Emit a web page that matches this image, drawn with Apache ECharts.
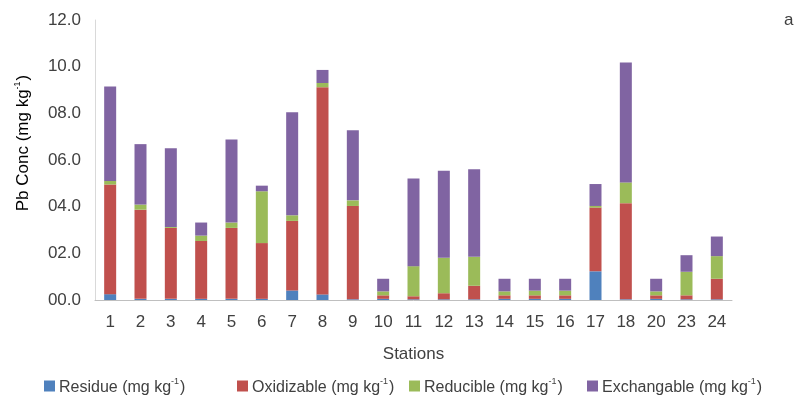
<!DOCTYPE html>
<html><head><meta charset="utf-8">
<script src="https://cdn.jsdelivr.net/npm/echarts@6/dist/echarts.min.js"></script>
<style>html,body{margin:0;padding:0;background:#fff}#c{width:798px;height:401px}</style>
</head><body><div id="c"></div>
<script>
const stations = ['1','2','3','4','5','6','7','8','9','10','11','12','13','14','15','16','17','18','20','23','24'];
const residue    = [0.25,0.05,0.05,0.05,0.05,0.05,0.41,0.24,0.03,0.05,0.03,0.03,0.03,0.05,0.05,0.05,1.23,0.03,0.05,0.03,0.03];
const oxidizable = [4.70,3.82,3.04,2.48,3.04,2.39,2.98,8.88,4.00,0.15,0.13,0.26,0.58,0.15,0.15,0.15,2.73,4.12,0.15,0.17,0.88];
const reducible  = [0.15,0.22,0.04,0.23,0.23,2.22,0.24,0.18,0.24,0.17,1.29,1.52,1.24,0.17,0.20,0.20,0.07,0.89,0.17,1.01,0.97];
const exchangable= [4.05,2.59,3.37,0.56,3.56,0.24,4.42,0.56,3.01,0.54,3.76,3.73,3.75,0.54,0.51,0.51,0.94,5.14,0.54,0.71,0.84];
const seriesNames = ['Residue','Oxidizable','Reducible','Exchangable'];
const yTitle = 'Pb Conc (mg kg';
const colors = ['#4F81BD','#C0504D','#9BBB59','#8064A2'];
const FONT = '"Liberation Sans", Arial, sans-serif';
const TXT = '#404040';
const rich = {
  a:{fontFamily:FONT,fontSize:16,color:TXT,lineHeight:20,verticalAlign:'bottom'},
  s:{fontFamily:FONT,fontSize:9,color:TXT,lineHeight:20,verticalAlign:'top',padding:[1,1,0,0]}
};
const richY = {
  a:{fontFamily:FONT,fontSize:17,color:TXT,lineHeight:20,verticalAlign:'bottom'},
  s:{fontFamily:FONT,fontSize:9,color:TXT,lineHeight:20,verticalAlign:'top',padding:[1,1,0,0]}
};
const legendLefts = [39,232,404,582];
const chart = echarts.init(document.getElementById('c'));
const values = [residue, oxidizable, reducible, exchangable];
chart.setOption({
  animation:false,
  color:colors,
  grid:{left:95,right:66,top:20,bottom:101},
  legend: seriesNames.map((n,i)=>({
    data:[n], left:legendLefts[i], top:371, icon:'rect', itemWidth:11, itemHeight:11, itemGap:0,
    formatter: name => '{a|'+name+' (mg kg}{s|-1}{a|)}',
    textStyle:{rich:rich, padding:[0,0,0,-1]}
  })),
  xAxis:{
    type:'category', data:stations,
    name:'Stations', nameLocation:'middle', nameGap:46,
    nameTextStyle:{fontFamily:FONT,fontSize:17,color:TXT},
    axisLine:{lineStyle:{color:'#bfbfbf',width:1}},
    axisTick:{show:false},
    axisLabel:{fontFamily:FONT,fontSize:17,color:TXT,margin:14,interval:0}
  },
  yAxis:{
    type:'value', min:0, max:12, interval:2,
    axisLine:{show:true,lineStyle:{color:'#d9d9d9',width:1}},
    axisTick:{show:false},
    splitLine:{show:false},
    axisLabel:{fontFamily:FONT,fontSize:17,color:TXT,margin:14,
      formatter:v=>{let s=v.toFixed(1);return s.length<4?'0'+s:s;}}
  },
  graphic:[
    {type:'text',left:784,top:12,style:{text:'a',font:'17px '+FONT,fill:TXT}},
    {type:'text',x:22,y:143,rotation:Math.PI/2,
     style:{text:'{a|'+yTitle+'}{s|-1}{a|)}',rich:richY,align:'center',verticalAlign:'middle'}}
  ],
  series: seriesNames.map((n,i)=>({
    name:n, type:'bar', stack:'total', data:values[i], barWidth:12,
    itemStyle:{color:colors[i]}
  }))
});
</script></body></html>
